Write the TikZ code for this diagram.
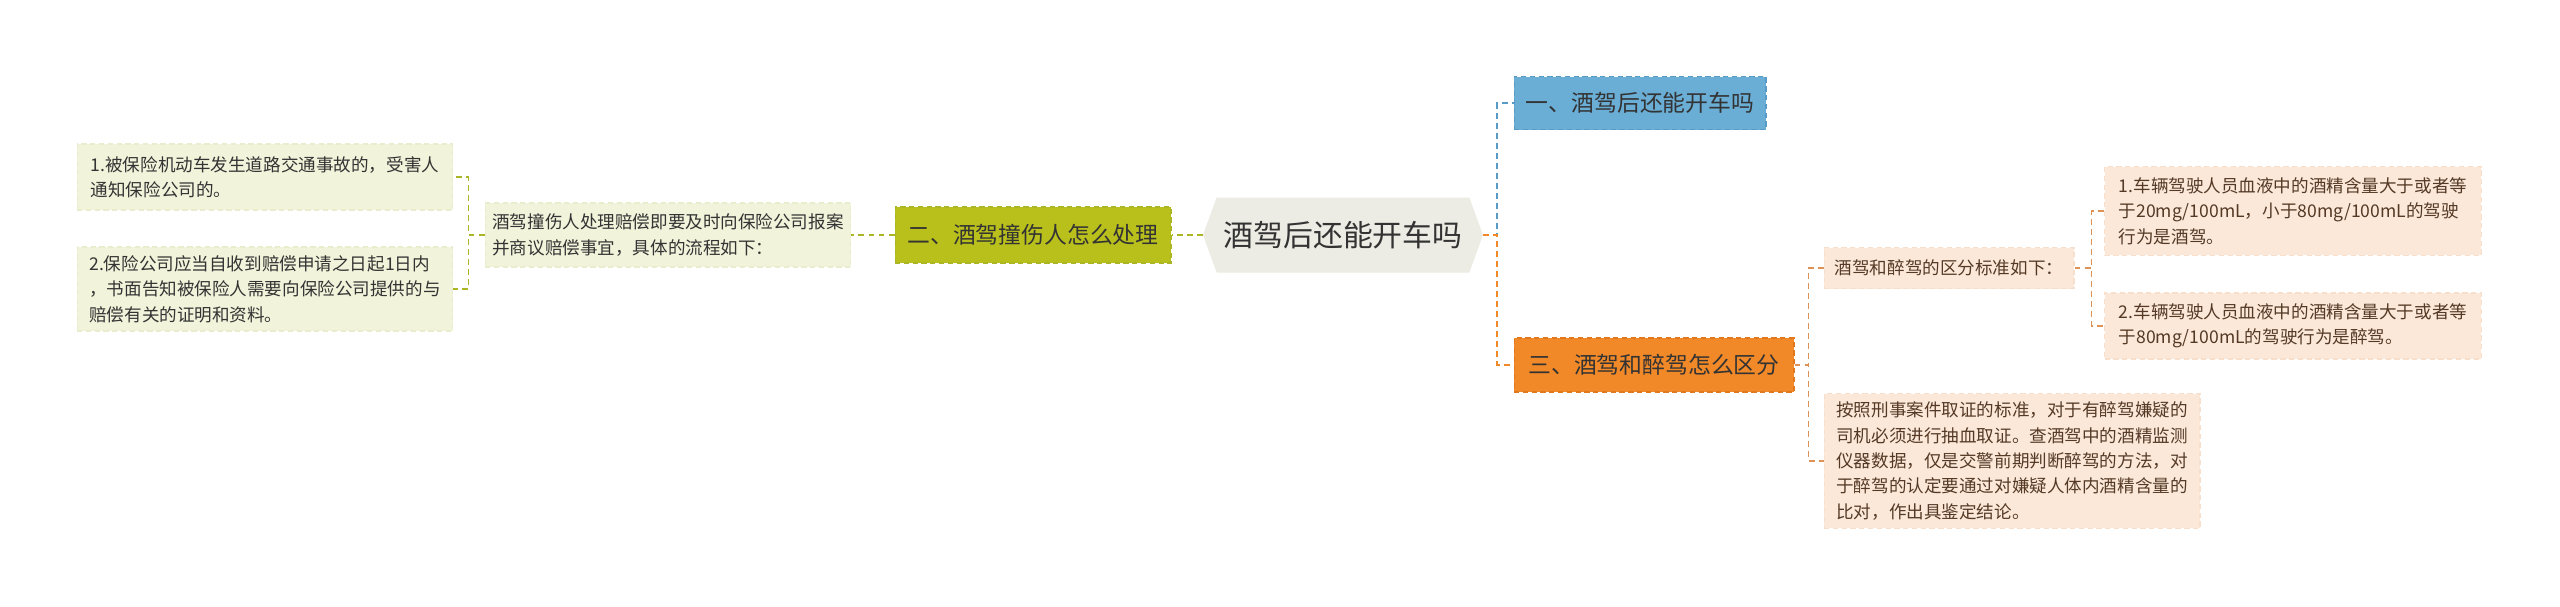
\documentclass[tikz,border=0pt]{standalone}
\usepackage{fontspec}
\setmainfont{Noto Sans CJK SC}
\usetikzlibrary{shapes.symbols}
\definecolor{mapRoot}{RGB}{236, 236, 228}
\definecolor{mapInk}{RGB}{51, 51, 51}
\definecolor{mapBrown}{RGB}{84, 58, 38}
\definecolor{mapBlue}{RGB}{106, 173, 213}
\definecolor{mapBlueLine}{RGB}{88, 155, 198}
\definecolor{mapOrange}{RGB}{242, 137, 40}
\definecolor{mapOrangeLine}{RGB}{226, 120, 30}
\definecolor{mapOlive}{RGB}{185, 192, 28}
\definecolor{mapOliveLine}{RGB}{170, 182, 36}
\definecolor{mapMoss}{RGB}{241, 243, 218}
\definecolor{mapMossLine}{RGB}{233, 237, 206}
\definecolor{mapPeach}{RGB}{252, 232, 216}
\definecolor{mapPeachLine}{RGB}{247, 223, 204}
\definecolor{mapPeachLink}{RGB}{222, 146, 86}

\begin{document}
\begin{tikzpicture}[x=0.02cm, y=-0.02cm,
    every node/.style={font=\fontsize{10}{14.5}\selectfont, text=mapInk},
    leafbox/.style={draw, dash pattern=on 3pt off 2pt, line width=0.6pt, align=left, inner xsep=0.1cm, inner ysep=0.08cm},
    mossleaf/.style={leafbox, fill=mapMoss, draw=mapMossLine},
    peachleaf/.style={leafbox, fill=mapPeach, draw=mapPeachLine, text=mapBrown},
    branch/.style={draw, dash pattern=on 3pt off 2pt, line width=0.6pt, font=\fontsize{13}{16}\selectfont},
    link/.style={dash pattern=on 3.4pt off 2.3pt, line width=1pt}]
    \useasboundingbox[fill=white] (0,0) rectangle (2560,606);
    % centre
    \node[shape=signal, signal to=west and east, signal pointer angle=140, fill=mapRoot,
          minimum width=5.6cm, minimum height=1.5cm, inner sep=0pt,
          font=\fontsize{17}{20}\selectfont] (root) at (1343,235) {酒驾后还能开车吗};
    % branches
    \node[branch, fill=mapBlue, draw=mapBlueLine, minimum width=5.04cm, minimum height=1.06cm] (drinkQ) at (1640,103) {一、酒驾后还能开车吗};
    \node[branch, fill=mapOlive, draw=mapOliveLine, minimum width=5.52cm, minimum height=1.12cm] (hurtQ) at (1033,235) {二、酒驾撞伤人怎么处理};
    \node[branch, fill=mapOrange, draw=mapOrangeLine, minimum width=5.6cm, minimum height=1.08cm] (diffQ) at (1654,365) {三、酒驾和醉驾怎么区分};
    % left side
    \node[mossleaf, minimum width=7.32cm, minimum height=1.28cm] (claimStep) at (668,235) {酒驾撞伤人处理赔偿即要及时向保险公司报案\\并商议赔偿事宜，具体的流程如下：};
    \node[mossleaf, minimum width=7.52cm, minimum height=1.32cm] (claimOne) at (265,177) {1.被保险机动车发生道路交通事故的，受害人\\通知保险公司的。};
    \node[mossleaf, minimum width=7.52cm, minimum height=1.68cm] (claimTwo) at (265,289) {2.保险公司应当自收到赔偿申请之日起1日内\\，书面告知被保险人需要向保险公司提供的与\\赔偿有关的证明和资料。};
    % right side
    \node[peachleaf, minimum width=5cm, minimum height=0.82cm] (diffRule) at (1949,268) {酒驾和醉驾的区分标准如下：};
    \node[peachleaf, minimum width=7.54cm, minimum height=1.78cm] (diffOne) at (2293,211) {1.车辆驾驶人员血液中的酒精含量大于或者等\\于20mg/100mL，小于80mg/100mL的驾驶\\行为是酒驾。};
    \node[peachleaf, minimum width=7.54cm, minimum height=1.32cm] (diffTwo) at (2293,326) {2.车辆驾驶人员血液中的酒精含量大于或者等\\于80mg/100mL的驾驶行为是醉驾。};
    \node[peachleaf, minimum width=7.52cm, minimum height=2.7cm] (diffProof) at (2012,461) {按照刑事案件取证的标准，对于有醉驾嫌疑的\\司机必须进行抽血取证。查酒驾中的酒精监测\\仪器数据，仅是交警前期判断醉驾的方法，对\\于醉驾的认定要通过对嫌疑人体内酒精含量的\\比对，作出具鉴定结论。};
    % links
    \draw[link, mapBlueLine] (root.east) -- ++(14,0) |- (drinkQ.west);
    \draw[link, mapOrange] (root.east) -- ++(14,0) |- (diffQ.west);
    \draw[link, mapOliveLine] (root.west) -- (hurtQ.east);
    \draw[link, mapOliveLine] (hurtQ.west) -- (claimStep.east);
    \draw[link, mapOliveLine] (claimStep.west) -- ++(-16,0) |- (claimOne.east);
    \draw[link, mapOliveLine] (claimStep.west) -- ++(-16,0) |- (claimTwo.east);
    \draw[link, mapPeachLink] (diffQ.east) -- ++(14,0) |- (diffRule.west);
    \draw[link, mapPeachLink] (diffQ.east) -- ++(14,0) |- (diffProof.west);
    \draw[link, mapPeachLink] (diffRule.east) -- ++(17,0) |- (diffOne.west);
    \draw[link, mapPeachLink] (diffRule.east) -- ++(17,0) |- (diffTwo.west);
\end{tikzpicture}
\end{document}
